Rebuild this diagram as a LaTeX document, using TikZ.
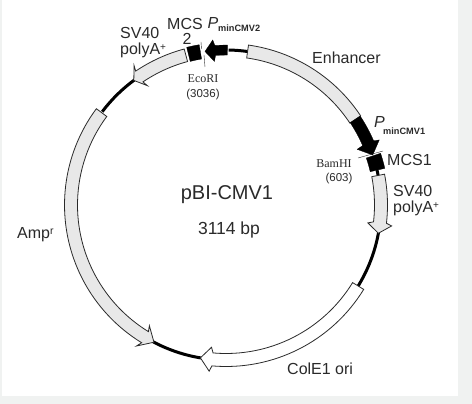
\documentclass[tikz,border=0pt]{standalone}
\usepackage{fontspec}
\setmainfont{Liberation Sans}
\newfontfamily\serifface{Liberation Serif}
\definecolor{panel}{HTML}{F0F2F1}
\definecolor{bandgray}{HTML}{E8E8E8}
\definecolor{ink}{HTML}{2A2A2A}
% start, head base, wing, tip, style
\newcommand{\bandarrow}[5]{%
  \draw[#5] (#1:161.5) arc[start angle=#1,end angle=#2,radius=161.5]
    -- (#3:167) -- (#4:155) -- (#3:143) -- (#2:148.5)
    arc[start angle=#2,end angle=#1,radius=148.5] -- cycle;}
\newcommand{\bandseg}[3]{%
  \draw[#3] (#1:161.5) arc[start angle=#1,end angle=#2,radius=161.5]
    -- (#2:148.5) arc[start angle=#2,end angle=#1,radius=148.5] -- cycle;}
\newcommand{\backbone}[2]{%
  \draw[backbone] (#1:155) arc[start angle=#1,end angle=#2,radius=155];}
\tikzset{
  x=1pt,y=1pt,
  band/.style={draw=ink,line width=0.8pt,fill=bandgray,line join=miter},
  openband/.style={band,fill=white},
  solid black/.style={draw=black,fill=black,line width=0.3pt},
  backbone/.style={draw=black,line width=3pt},
  tick/.style={draw=ink,line width=0.4pt},
  lab/.style={inner sep=0pt,text=ink,font=\fontsize{16}{18}\selectfont,anchor=west},
  small/.style={inner sep=0pt,text=ink,font=\fontsize{9.2}{10}\selectfont\bfseries,anchor=west},
  site/.style={inner sep=0pt,text=ink,font=\serifface\fontsize{12}{13}\selectfont},
  sitenum/.style={inner sep=0pt,text=ink,font=\fontsize{11.5}{13}\selectfont},
}
\begin{document}
\begin{tikzpicture}
\useasboundingbox (0,0) rectangle (472,-404);
\fill[panel] (0,0) rectangle (472,-404);
\fill[white] (2,0) rectangle (458,-396);
\begin{scope}[shift={(226,-205)}]
  \backbone{89}{82}
  \backbone{13}{10}
  \backbone{-10}{-32}
  \backbone{-99}{-118}
  \backbone{143}{126}
  \bandseg{82}{33.5}{band}
  \draw[solid black] (33.5:161) arc[start angle=33.5,end angle=23.5,radius=161]
    -- (23:166.5) -- (18.8:155) -- (23:142.5) -- (23.5:149)
    arc[start angle=23.5,end angle=33.5,radius=149] -- cycle;
  \draw[solid black] (18.5:163) arc[start angle=18.5,end angle=13,radius=163]
    -- (13:148) arc[start angle=13,end angle=18.5,radius=148] -- cycle;
  \bandarrow{11}{-6.5}{-7.2}{-10.5}{band}
  \bandarrow{-31.5}{-95}{-95.8}{-99.5}{openband}
  \bandarrow{143.4}{238.5}{237.6}{242.3}{band}
  \bandarrow{105}{124}{123.4}{126.5}{band}
  \draw[solid black] (104:162.5) arc[start angle=104,end angle=99.5,radius=162.5]
    -- (99.5:148) arc[start angle=99.5,end angle=104,radius=148] -- cycle;
  \draw[solid black] (89.5:160) -- (94:160) -- (94.6:165.5) -- (97.8:155) -- (94.6:144) -- (94:150) -- (89.5:150) -- cycle;
\end{scope}
\coordinate (ecoA) at (201,-42);
\coordinate (ecoB) at (201.5,-49);
\coordinate (ecoC) at (204,-55);
\coordinate (ecoD) at (205,-67);
\coordinate (bamA) at (358,-158);
\coordinate (bamB) at (383,-151);
\draw[tick] (ecoA) -- (ecoB);
\draw[tick] (ecoC) -- (ecoD);
\draw[tick] (bamA) -- (bamB);
\node[lab] (enh) at (312,-58) {Enhancer};
\node[lab] (sva) at (120,-33) {SV40};
\node[lab] (svb) at (120,-50) {polyA\raisebox{3.5pt}{\fontsize{10}{10}\selectfont +}};
\node[lab] (mcsa) at (167,-24) {MCS};
\node[lab,anchor=center] (mcsb) at (187,-39) {2};
\node[lab,font=\fontsize{16}{18}\selectfont\itshape] (pb) at (207.5,-23) {P};
\node[small] (pbs) at (218,-28) {minCMV2};
\node[site] (eco) at (203,-79) {EcoRI};
\node[sitenum] (econ) at (203,-95) {(3036)};
\node[lab,font=\fontsize{16}{18}\selectfont\itshape] (pa) at (374,-122) {P};
\node[small] (pas) at (383,-131) {minCMV1};
\node[lab] (mcs) at (387,-160) {MCS1};
\node[site] (bam) at (334,-164) {BamHI};
\node[sitenum] (bamn) at (339,-179) {(603)};
\node[lab] (svc) at (393,-191) {SV40};
\node[lab] (svd) at (393,-208) {polyA\raisebox{3.5pt}{\fontsize{10}{10}\selectfont +}};
\node[lab,anchor=center,font=\fontsize{20}{22}\selectfont] (name) at (227,-195) {pBI-CMV1};
\node[lab,anchor=center,font=\fontsize{17.5}{19}\selectfont] (size) at (229,-230) {3114 bp};
\node[lab] (amp) at (17,-235) {Amp\raisebox{4pt}{\fontsize{10.5}{10}\selectfont r}};
\node[lab] (col) at (287,-369) {ColE1 ori};
\end{tikzpicture}
\end{document}
